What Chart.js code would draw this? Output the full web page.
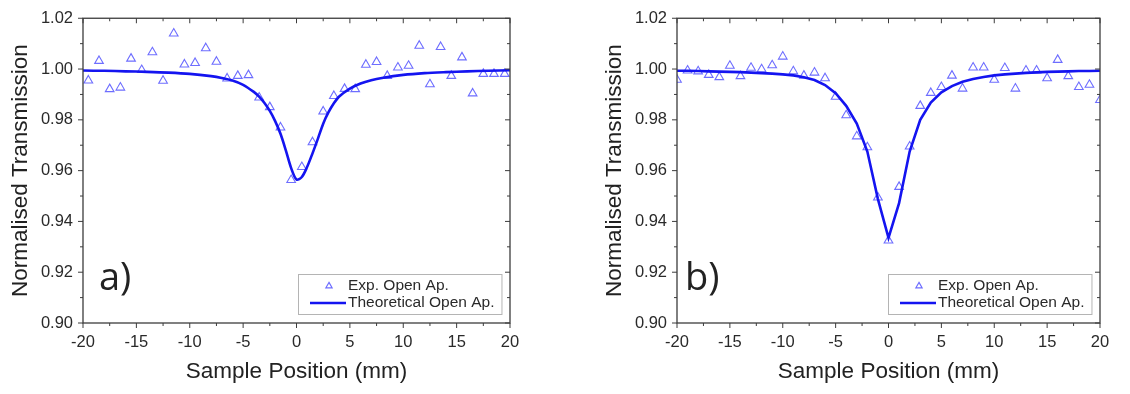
<!DOCTYPE html>
<html>
<head>
<meta charset="utf-8">
<script src="https://cdn.jsdelivr.net/npm/chart.js@4"></script>
<style>
  body { margin: 0; background: #fff; width: 1130px; height: 394px; position: relative; overflow: hidden; }
  canvas { position: absolute; top: 0; }
  #chartA { left: 0; }
  #chartB { left: 594px; }
</style>
</head>
<body>
<canvas id="chartA" width="560" height="394"></canvas>
<canvas id="chartB" width="536" height="394"></canvas>
<script>
// panel a) - measured points (mm, normalised T) and theoretical fit
const expPosA = [-19.5, -18.5, -17.5, -16.5, -15.5, -14.5, -13.5, -12.5, -11.5, -10.5,
                 -9.5, -8.5, -7.5, -6.5, -5.5, -4.5, -3.5, -2.5, -1.5, -0.5,
                 0.5, 1.5, 2.5, 3.5, 4.5, 5.5, 6.5, 7.5, 8.5, 9.5,
                 10.5, 11.5, 12.5, 13.5, 14.5, 15.5, 16.5, 17.5, 18.5, 19.5];
const expTransA = [0.9955, 1.0032, 0.9921, 0.9927, 1.0041, 0.9996, 1.0066, 0.9954, 1.0140, 1.0018,
                   1.0024, 1.0082, 1.0029, 0.9963, 0.9973, 0.9976, 0.9888, 0.9850, 0.9770, 0.9563,
                   0.9614, 0.9712, 0.9833, 0.9894, 0.9922, 0.9921, 1.0017, 1.0028, 0.9973, 1.0006,
                   1.0013, 1.0092, 0.9940, 1.0087, 0.9973, 1.0046, 0.9904, 0.9981, 0.9981, 0.9981];
const fitPosA = [-20, -18, -16, -14, -12, -10, -8, -7, -6, -5, -4, -3.5, -3, -2.5, -2, -1.5, -1, -0.5, 0,
                 0.5, 1, 1.5, 2, 2.5, 3, 3.5, 4, 5, 6, 7, 8, 10, 12, 14, 16, 18, 20];
const fitTransA = [0.9994, 0.9993, 0.9991, 0.9989, 0.9986, 0.9981, 0.9972, 0.9965, 0.9955, 0.9938,
                   0.9910, 0.9891, 0.9866, 0.9835, 0.9795, 0.9745, 0.9680, 0.9610, 0.9565,
                   0.9575, 0.9615, 0.9668, 0.9725, 0.9785, 0.9830, 0.9865, 0.9892, 0.9923, 0.9943,
                   0.9956, 0.9965, 0.9977, 0.9984, 0.9988, 0.9991, 0.9993, 0.9995];

// panel b)
const expPosB = [-20, -19, -18, -17, -16, -15, -14, -13, -12, -11,
                 -10, -9, -8, -7, -6, -5, -4, -3, -2, -1,
                 0, 1, 2, 3, 4, 5, 6, 7, 8, 9,
                 10, 11, 12, 13, 14, 15, 16, 17, 18, 19, 20];
const expTransB = [0.9958, 0.9994, 0.9991, 0.9977, 0.9968, 1.0013, 0.9972, 1.0005, 0.9999, 1.0015,
                   1.0049, 0.9991, 0.9974, 0.9986, 0.9964, 0.9891, 0.9818, 0.9735, 0.9692, 0.9494,
                   0.9325, 0.9536, 0.9695, 0.9855, 0.9906, 0.9929, 0.9974, 0.9923, 1.0006, 1.0006,
                   0.9958, 1.0004, 0.9923, 0.9994, 0.9994, 0.9964, 1.0036, 0.9972, 0.9929, 0.9938, 0.9878];
const fitPosB = expPosB;
const fitTransB = [0.9993, 0.9993, 0.9992, 0.9991, 0.9990, 0.9989, 0.9988, 0.9986, 0.9984, 0.9982,
                   0.9979, 0.9975, 0.9968, 0.9957, 0.9937, 0.9905, 0.9855, 0.9785, 0.9675, 0.9488,
                   0.9335, 0.9472, 0.9675, 0.9800, 0.9868, 0.9908, 0.9933, 0.9950, 0.9961, 0.9969,
                   0.9975, 0.9979, 0.9982, 0.9985, 0.9987, 0.9989, 0.9990, 0.9991, 0.9992, 0.9992, 0.9993];

const xTickLabels = ['-20', '-15', '-10', '-5', '0', '5', '10', '15', '20'];
const yTickLabels = ['0.90', '0.92', '0.94', '0.96', '0.98', '1.00', '1.02'];

const sansFamily = "'Liberation Sans', Arial, sans-serif";
const tickFont = { family: sansFamily, size: 16.5, lineHeight: 1 };
const titleFont = { family: sansFamily, size: 22.5 };
const expColor = '#6e6eff';
const fitColor = '#1414f0';

// Origin-style frame: ticks out on bottom/left, in on top/right, custom legend and panel tag
const frameAndLegend = {
    id: 'frameAndLegend',
    afterDatasetsDraw(chart, args, opts) {
        const { ctx, chartArea: a, scales: { x, y } } = chart;
        ctx.save();
        ctx.strokeStyle = '#3c3c3c';
        ctx.lineWidth = 1.3;
        ctx.strokeRect(a.left, a.top, a.right - a.left, a.bottom - a.top);

        ctx.lineWidth = 1;
        ctx.beginPath();
        x.ticks.forEach(t => {
            const px = x.getPixelForValue(t.value);
            const len = t.label !== '' ? 5 : 3;
            ctx.moveTo(px, a.bottom); ctx.lineTo(px, a.bottom + len);
            ctx.moveTo(px, a.top); ctx.lineTo(px, a.top + len);
        });
        y.ticks.forEach(t => {
            const py = y.getPixelForValue(t.value);
            const len = t.label !== '' ? 5 : 3;
            ctx.moveTo(a.left, py); ctx.lineTo(a.left - len, py);
            ctx.moveTo(a.right, py); ctx.lineTo(a.right - len, py);
        });
        ctx.stroke();

        // legend box
        const ds = chart.data.datasets;
        ctx.font = '15.5px ' + sansFamily;
        const textW = Math.max(...ds.map(d => ctx.measureText(d.label).width));
        const w = 52 + textW + 5, h = 40;
        const bx = Math.round(a.right - 9 - w), by = Math.round(a.bottom - 9 - h);
        ctx.fillStyle = '#fff';
        ctx.fillRect(bx, by, w, h);
        ctx.strokeStyle = '#b4b4b4';
        ctx.strokeRect(bx + 0.5, by + 0.5, w, h);
        ctx.textBaseline = 'middle';
        ds.forEach((d, i) => {
            const cy = by + 12 + i * 17;
            if (d.showLine) {
                ctx.strokeStyle = d.borderColor;
                ctx.lineWidth = 2.6;
                ctx.beginPath();
                ctx.moveTo(bx + 12, cy); ctx.lineTo(bx + 48, cy);
                ctx.stroke();
            } else {
                const r = 3.6, cx = bx + 31;
                ctx.strokeStyle = d.borderColor;
                ctx.lineWidth = 1.2;
                ctx.beginPath();
                ctx.moveTo(cx, cy - r);
                ctx.lineTo(cx + r * 0.866, cy + r * 0.5);
                ctx.lineTo(cx - r * 0.866, cy + r * 0.5);
                ctx.closePath();
                ctx.stroke();
            }
            ctx.fillStyle = '#2a2a2a';
            ctx.fillText(d.label, bx + 50, cy);
        });

        // panel tag a) / b)
        ctx.font = "38px 'Open Sans', sans-serif";
        ctx.fillStyle = '#222';
        ctx.textBaseline = 'alphabetic';
        ctx.fillText(opts.tag, a.left + opts.tagDx, a.bottom - 33);
        ctx.restore();
    }
};

function makePanel(id, expX, expY, fitX, fitY, tag, tagDx, padRight, tension) {
    return new Chart(document.getElementById(id), {
        type: 'scatter',
        data: {
            datasets: [{
                label: 'Exp. Open Ap.',
                data: expX.map((v, i) => ({ x: v, y: expY[i] })),
                showLine: false,
                pointStyle: 'triangle',
                pointRadius: 5,
                pointBorderWidth: 1.1,
                borderColor: expColor,
                backgroundColor: 'rgba(0,0,0,0)',
                clip: 0,
                order: 1
            }, {
                label: 'Theoretical Open Ap.',
                data: fitX.map((v, i) => ({ x: v, y: fitY[i] })),
                showLine: true,
                borderColor: fitColor,
                borderWidth: 2.6,
                pointRadius: 0,
                tension: tension,
                clip: 0,
                order: 0
            }]
        },
        options: {
            responsive: false,
            animation: false,
            devicePixelRatio: 1,
            layout: { padding: { left: 0, right: padRight, top: 9, bottom: 0 } },
            plugins: {
                legend: { display: false },
                tooltip: { enabled: false },
                frameAndLegend: { tag: tag, tagDx: tagDx }
            },
            scales: {
                x: {
                    type: 'linear', min: -20, max: 20,
                    ticks: {
                        stepSize: 2.5, autoSkip: false, maxRotation: 0, padding: 11,
                        color: '#2a2a2a', font: tickFont,
                        callback: v => xTickLabels.includes(String(v)) ? String(v) : ''
                    },
                    grid: { display: false, drawTicks: false },
                    border: { display: false },
                    title: { display: true, text: 'Sample Position (mm)', color: '#222', font: titleFont, padding: { top: 0, bottom: 8.5 } },
                    afterFit: s => { s.height = 71; }
                },
                y: {
                    min: 0.9, max: 1.02,
                    ticks: {
                        stepSize: 0.01, autoSkip: false, padding: 10,
                        color: '#2a2a2a', font: tickFont,
                        callback: v => yTickLabels.includes(v.toFixed(2)) ? v.toFixed(2) : ''
                    },
                    grid: { display: false, drawTicks: false },
                    border: { display: false },
                    title: { display: true, text: 'Normalised Transmission', color: '#222', font: titleFont, padding: { top: 7.5, bottom: 0 } },
                    afterFit: s => { s.width = 83; }
                }
            }
        },
        plugins: [frameAndLegend]
    });
}

makePanel('chartA', expPosA, expTransA, fitPosA, fitTransA, 'a)', 16, 50, 0.3);
makePanel('chartB', expPosB, expTransB, fitPosB, fitTransB, 'b)', 8, 30, 0);
</script>
</body>
</html>
